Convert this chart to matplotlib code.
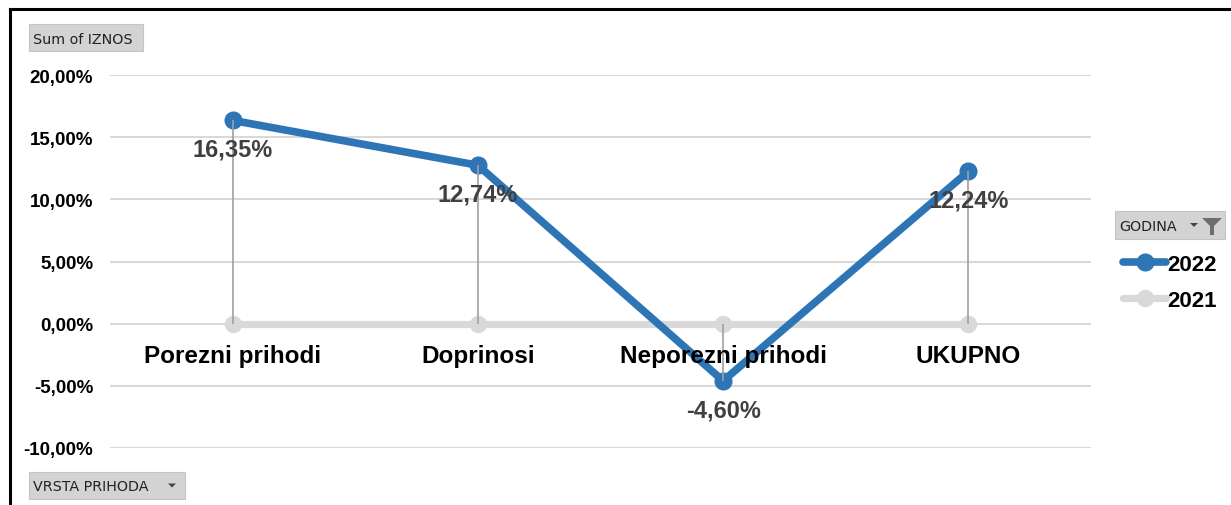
"""
Excel-style pivot line chart: change of revenue (IZNOS) by type, 2022 vs 2021.
"""

import matplotlib
matplotlib.use("Agg")
import matplotlib.pyplot as plt
from matplotlib.lines import Line2D
from matplotlib.patches import Rectangle, Polygon
from matplotlib.ticker import FuncFormatter

W, H = 1231, 506
DPI = 100

CATEGORIES = ["Porezni prihodi", "Doprinosi", "Neporezni prihodi", "UKUPNO"]
VALUES_2022 = [16.35, 12.74, -4.60, 12.24]
VALUES_2021 = [0.0, 0.0, 0.0, 0.0]
Y_TICKS = [-10, -5, 0, 5, 10, 15, 20]

BLUE = "#2E75B6"
LIGHT_GRAY = "#D9D9D9"
LABEL_GRAY = "#404040"

plt.rcParams["font.family"] = ["Liberation Sans", "DejaVu Sans"]


def fx(px):
    return px / W


def fy(py):
    # pixel rows are counted from the top
    return 1 - py / H


def pct(v):
    return f"{v:.2f}%".replace(".", ",")


def button(fig, x0, y0, x1, y1, text, arrow_x=None):
    """Grey pivot field button drawn in pixel coordinates."""
    fig.add_artist(Rectangle((fx(x0), fy(y1)), fx(x1 - x0), (y1 - y0) / H,
                             transform=fig.transFigure, facecolor="#D3D3D3",
                             edgecolor="#C4C4C4", lw=0.8))
    fig.text(fx(x0 + 4), fy((y0 + y1) / 2 + 1), text, family="DejaVu Sans",
             fontsize=10.3, color="#222222", va="center", ha="left")
    if arrow_x is not None:
        cy = (y0 + y1) / 2
        tri = [(fx(arrow_x - 4), fy(cy - 2)), (fx(arrow_x + 4), fy(cy - 2)),
               (fx(arrow_x), fy(cy + 2))]
        fig.add_artist(Polygon(tri, closed=True, transform=fig.transFigure,
                               facecolor="#444444", edgecolor="none"))


def main():
    fig = plt.figure(figsize=(W / DPI, H / DPI), dpi=DPI)
    ax = fig.add_axes([fx(110), fy(449), fx(1091 - 110), (449 - 76) / H])

    x = list(range(len(CATEGORIES)))

    ax.set_ylim(-10, 20)
    ax.set_xlim(-0.5, len(CATEGORIES) - 0.5)
    ax.set_yticks(Y_TICKS)
    ax.yaxis.set_major_formatter(FuncFormatter(lambda v, _: pct(v)))
    ax.set_xticks([])
    ax.tick_params(axis="y", length=0, pad=12, labelsize=13.5)
    for lab in ax.get_yticklabels():
        lab.set_fontweight("bold")
    for s in ax.spines.values():
        s.set_visible(False)
    ax.grid(axis="y", color=LIGHT_GRAY, lw=1.5)
    ax.set_axisbelow(True)

    ax.plot(x, VALUES_2021, color=LIGHT_GRAY, lw=5.2, marker="o", ms=11.5,
            solid_capstyle="round", label="2021", zorder=2)
    ax.plot(x, VALUES_2022, color=BLUE, lw=5.5, marker="o", ms=12,
            solid_capstyle="round", solid_joinstyle="round", label="2022", zorder=3)

    # high-low lines between the two series
    ax.vlines(x, VALUES_2021, VALUES_2022, color="#A0A0A0", lw=1.2, zorder=4)

    for xi, v in zip(x, VALUES_2022):
        ax.annotate(pct(v), (xi, v), xytext=(0, -29), textcoords="offset pixels",
                    ha="center", va="center", fontsize=17, fontweight="bold",
                    color=LABEL_GRAY, zorder=6)

    for xi, name in zip(x, CATEGORIES):
        ax.annotate(name, (xi, 0), xytext=(0, -32), textcoords="offset pixels",
                    ha="center", va="center", fontsize=17.5, fontweight="bold",
                    color="black", zorder=5, annotation_clip=False)

    handles, labels = ax.get_legend_handles_labels()
    fig.legend(handles[::-1], labels[::-1], loc="upper left",
               bbox_to_anchor=(fx(1112), fy(244)), frameon=False,
               prop={"weight": "bold", "size": 16}, handlelength=1.95,
               handletextpad=0.05, labelspacing=0.65, borderpad=0)

    # pivot field buttons
    button(fig, 29, 25, 143, 52, "Sum of IZNOS")
    button(fig, 29, 473, 185, 500, "VRSTA PRIHODA", arrow_x=172)
    button(fig, 1115, 212, 1225, 240, "GODINA", arrow_x=1194)
    funnel = [(fx(1202), fy(219)), (fx(1222), fy(219)), (fx(1214), fy(227)),
              (fx(1214), fy(236)), (fx(1210), fy(236)), (fx(1210), fy(227))]
    fig.add_artist(Polygon(funnel, closed=True, transform=fig.transFigure,
                           facecolor="#6E6E6E", edgecolor="none"))

    # black frame on the top and left
    fig.add_artist(Line2D([fx(10), fx(10)], [fy(10), 0], transform=fig.transFigure,
                          color="black", lw=2.2))
    fig.add_artist(Line2D([fx(10), 1], [fy(10), fy(10)], transform=fig.transFigure,
                          color="black", lw=2.2))

    fig.savefig("out.png", dpi=DPI)


if __name__ == "__main__":
    main()
